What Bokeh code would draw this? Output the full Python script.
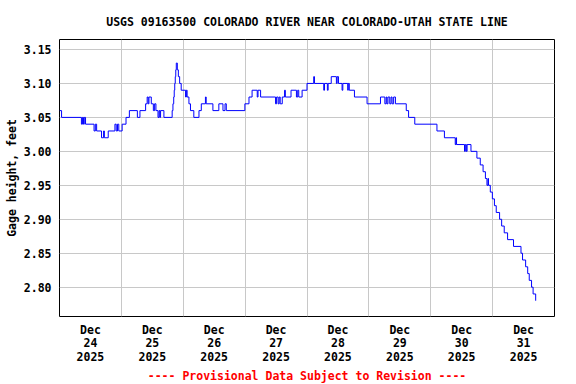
from bokeh.plotting import figure
from bokeh.models import FixedTicker, Range1d, Title, PrintfTickFormatter
from bokeh.embed import file_html
from bokeh.resources import INLINE

TITLE = "USGS 09163500 COLORADO RIVER NEAR COLORADO-UTAH STATE LINE"
Y_LABEL = "Gage height, feet"
NOTE = "---- Provisional Data Subject to Revision ----"

# day labels (centred on each day), hours since Dec 24 2025 00:00
DAY_LABEL_HOURS = [12, 36, 60, 84, 108, 132, 156, 180]
DAY_LABELS = ["Dec\n24\n2025", "Dec\n25\n2025", "Dec\n26\n2025", "Dec\n27\n2025",
              "Dec\n28\n2025", "Dec\n29\n2025", "Dec\n30\n2025", "Dec\n31\n2025"]
MIDNIGHT_HOURS = [24, 48, 72, 96, 120, 144, 168]
Y_TICKS = [2.80, 2.85, 2.90, 2.95, 3.00, 3.05, 3.10, 3.15]
X_START, X_END = 0, 192
Y_MIN, Y_MAX = 2.7568, 3.1647

# gage height change points (hours since Dec 24 00:00, feet)
HOURS = [
    0.0, 0.8, 8.5, 8.9, 9.3, 9.6, 10.1, 13.4, 13.9, 14.4, 16.3, 17.1, 17.4, 18.9,
    21.5, 22.0, 22.5, 23.0, 24.3, 25.8, 27.1, 30.2, 31.2, 33.4, 34.0, 34.4, 34.7,
    35.6, 36.4, 36.9, 37.4, 38.2, 38.6, 38.9, 39.2, 40.5, 43.7, 44.0, 44.3, 44.5,
    44.7, 44.9, 45.1, 45.3, 45.7, 46.1, 46.6, 47.2, 48.9, 49.2, 49.5, 50.2, 50.8,
    52.1, 54.1, 55.0, 56.6, 56.9, 59.5, 61.8, 63.4, 64.2, 64.7, 71.9, 73.5, 74.7,
    76.7, 77.0, 78.0, 83.8, 84.2, 84.8, 85.2, 85.6, 86.4, 87.3, 87.6, 89.8, 91.9,
    92.4, 92.8, 94.1, 96.0, 98.6, 98.9, 102.5, 102.8, 103.9, 104.2, 105.4, 107.4,
    107.7, 108.2, 109.6, 109.9, 111.8, 112.0, 112.4, 114.4, 119.3, 124.5, 126.2,
    126.7, 127.0, 127.4, 128.1, 128.6, 129.0, 129.6, 130.3, 134.5, 135.4, 137.8,
    146.4, 149.3, 153.5, 153.8, 154.0, 157.1, 157.4, 157.8, 158.1, 159.6, 161.9,
    163.2, 164.3, 165.2, 165.8, 166.2, 166.4, 167.1, 167.9, 168.7, 169.4, 170.7,
    171.5, 172.5, 173.8, 176.1, 179.0, 179.6, 180.8, 181.6, 182.2, 183.1, 183.7,
    184.7,
]
GAGE_FT = [
    3.06, 3.05, 3.04, 3.05, 3.04, 3.05, 3.04, 3.03, 3.04, 3.03, 3.02, 3.03, 3.02, 3.03,
    3.04, 3.03, 3.04, 3.03, 3.04, 3.05, 3.06, 3.05, 3.06, 3.07, 3.08, 3.07, 3.08,
    3.07, 3.06, 3.07, 3.06, 3.05, 3.06, 3.05, 3.06, 3.05, 3.06, 3.07, 3.08, 3.09,
    3.10, 3.11, 3.12, 3.13, 3.12, 3.11, 3.10, 3.09, 3.08, 3.09, 3.08, 3.07, 3.06,
    3.05, 3.06, 3.07, 3.08, 3.07, 3.06, 3.07, 3.06, 3.07, 3.06, 3.07, 3.08, 3.09,
    3.08, 3.09, 3.08, 3.07, 3.08, 3.07, 3.08, 3.07, 3.08, 3.09, 3.08, 3.09, 3.08,
    3.09, 3.08, 3.09, 3.10, 3.11, 3.10, 3.09, 3.10, 3.09, 3.10, 3.11, 3.10,
    3.11, 3.10, 3.09, 3.10, 3.09, 3.10, 3.09, 3.08, 3.07, 3.08, 3.07,
    3.08, 3.07, 3.08, 3.07, 3.08, 3.07, 3.08, 3.07, 3.06, 3.05, 3.04,
    3.03, 3.02, 3.01, 3.02, 3.01, 3.00, 3.01, 3.00, 3.01, 3.00, 2.99,
    2.98, 2.97, 2.96, 2.95, 2.96, 2.95, 2.94, 2.93, 2.92, 2.91, 2.90,
    2.89, 2.88, 2.87, 2.86, 2.85, 2.84, 2.83, 2.82, 2.81, 2.80, 2.79,
    2.78,
]

FONT = "DejaVu Sans Mono"
FS = "11.5px"

p = figure(width=576, height=384, output_backend="svg", toolbar_location=None,
           x_range=Range1d(X_START, X_END), y_range=Range1d(Y_MIN, Y_MAX),
           min_border_left=59, min_border_right=22, min_border_top=39,
           min_border_bottom=68)
p.background_fill_color = "white"
p.border_fill_color = "white"
p.outline_line_color = "black"
p.outline_line_width = 1

p.step(x=HOURS, y=GAGE_FT, mode="after", line_color="#0000ff", line_width=1)

# x axis
xa = p.xaxis[0]
xa.ticker = FixedTicker(ticks=DAY_LABEL_HOURS)
xa.major_label_overrides = {h: lab for h, lab in zip(DAY_LABEL_HOURS, DAY_LABELS)}
xa.major_tick_out = 0
xa.major_tick_in = 0
xa.minor_tick_out = 0
xa.minor_tick_in = 0
xa.axis_line_color = None
xa.major_label_standoff = 6
xa.major_label_text_font = FONT
xa.major_label_text_font_style = "bold"
xa.major_label_text_font_size = FS
xa.major_label_text_line_height = 0.97
xa.major_label_text_color = "black"

# y axis
ya = p.yaxis[0]
ya.ticker = FixedTicker(ticks=Y_TICKS)
ya.formatter = PrintfTickFormatter(format="%.2f")
ya.major_tick_out = 0
ya.major_tick_in = 0
ya.minor_tick_out = 0
ya.minor_tick_in = 0
ya.axis_line_color = None
ya.major_label_standoff = 8
ya.major_label_text_font = FONT
ya.major_label_text_font_style = "bold"
ya.major_label_text_font_size = FS
ya.major_label_text_color = "black"
ya.axis_label = Y_LABEL
ya.axis_label_text_font = FONT
ya.axis_label_text_font_style = "bold"
ya.axis_label_text_font_size = FS
ya.axis_label_text_color = "black"
ya.axis_label_standoff = 2

# grid
p.xgrid.ticker = FixedTicker(ticks=MIDNIGHT_HOURS)
p.ygrid.ticker = FixedTicker(ticks=Y_TICKS)
p.xgrid.grid_line_color = "#c8c8c8"
p.ygrid.grid_line_color = "#c8c8c8"
p.xgrid.grid_line_width = 1
p.ygrid.grid_line_width = 1

# title & note
p.title = Title(text=TITLE, align="center", text_font=FONT, text_font_style="bold",
                text_font_size=FS, text_color="black", standoff=22)
p.add_layout(Title(text=NOTE, align="center", text_font=FONT, text_font_style="bold",
                   text_font_size=FS, text_color="red", standoff=0), "below")

open("out.html", "w").write(file_html(p, INLINE))
